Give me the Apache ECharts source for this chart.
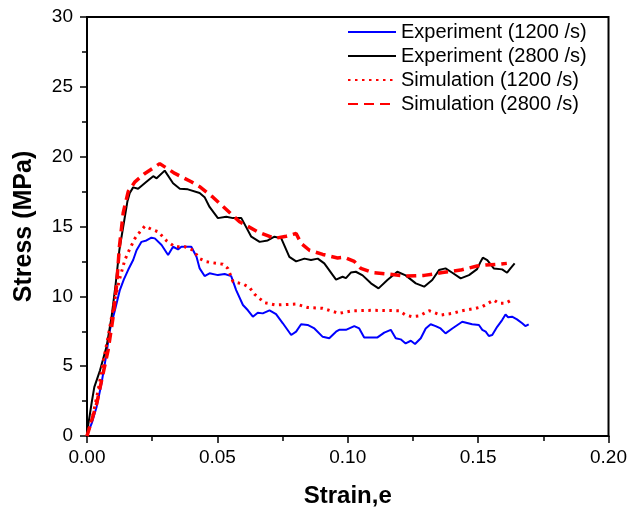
<!DOCTYPE html>
<html>
<head>
<meta charset="utf-8">
<script src="https://cdn.jsdelivr.net/npm/echarts@6/dist/echarts.min.js"></script>
<style>
  html, body { margin: 0; padding: 0; background: #fff; }
  #chart { width: 630px; height: 513px; }
</style>
</head>
<body>
<div id="chart"></div>
<script>
// Series names (legend order)
const seriesNames = ['Experiment (1200 /s)', 'Experiment (2800 /s)', 'Simulation (1200 /s)', 'Simulation (2800 /s)'];

// Experiment, strain rate 1200 /s
const exp1200Strain = [0, 0.0018, 0.0037, 0.0056, 0.0073, 0.0088, 0.0107, 0.0126, 0.0141, 0.0158, 0.0177, 0.019, 0.0209, 0.0228, 0.0247, 0.026, 0.0266, 0.0286, 0.0311, 0.033, 0.0349, 0.0362, 0.04, 0.042, 0.0432, 0.0451, 0.047, 0.0502, 0.0528, 0.0553, 0.0572, 0.0598, 0.0617, 0.0636, 0.0655, 0.0674, 0.07, 0.0725, 0.0751, 0.0783, 0.0802, 0.0821, 0.0846, 0.0872, 0.0904, 0.0929, 0.0955, 0.0967, 0.0993, 0.1025, 0.1044, 0.1063, 0.1114, 0.114, 0.1165, 0.1184, 0.1203, 0.1222, 0.1242, 0.1258, 0.128, 0.1299, 0.1318, 0.1337, 0.1356, 0.1375, 0.1401, 0.1439, 0.1477, 0.1503, 0.1516, 0.1529, 0.1541, 0.1554, 0.1573, 0.1592, 0.1605, 0.1615, 0.163, 0.1649, 0.1669, 0.1681, 0.1694];
const exp1200Stress = [0.1, 0.9, 2.1, 3.8, 5.7, 7.6, 9.0, 10.45, 11.2, 11.9, 12.6, 13.3, 13.9, 14.0, 14.2, 14.15, 14.27, 13.67, 12.96, 13.55, 13.36, 13.55, 13.55, 12.83, 12.0, 11.45, 11.65, 11.52, 11.6, 11.45, 10.45, 9.38, 9.0, 8.54, 8.83, 8.78, 9.0, 8.73, 8.07, 7.23, 7.47, 8.0, 7.95, 7.7, 7.1, 7.0, 7.47, 7.6, 7.6, 7.87, 7.7, 7.06, 7.06, 7.4, 7.6, 7.0, 6.92, 6.63, 6.82, 6.59, 7.0, 7.7, 8.0, 7.87, 7.7, 7.35, 7.7, 8.18, 8.0, 7.95, 7.6, 7.47, 7.16, 7.23, 7.82, 8.3, 8.7, 8.5, 8.54, 8.35, 8.07, 7.87, 8.0];

// Experiment, strain rate 2800 /s
const exp2800Strain = [0, 0.0018, 0.0028, 0.005, 0.0075, 0.0094, 0.011, 0.0124, 0.0139, 0.0155, 0.0164, 0.0177, 0.0196, 0.0228, 0.0254, 0.0267, 0.0298, 0.033, 0.0356, 0.0387, 0.0432, 0.0451, 0.047, 0.0502, 0.0534, 0.056, 0.0592, 0.063, 0.0662, 0.0693, 0.0719, 0.0745, 0.0776, 0.0802, 0.0834, 0.0859, 0.0885, 0.091, 0.0955, 0.098, 0.0993, 0.1012, 0.1031, 0.1057, 0.1089, 0.1118, 0.1152, 0.119, 0.1222, 0.1261, 0.1293, 0.1324, 0.135, 0.1375, 0.1401, 0.1433, 0.1465, 0.1496, 0.151, 0.1518, 0.1535, 0.156, 0.1592, 0.1611, 0.1624, 0.164];
const exp2800Stress = [0.2, 2.4, 3.5, 4.7, 6.4, 8.5, 10.9, 13.3, 15.0, 16.8, 17.4, 17.8, 17.7, 18.2, 18.6, 18.45, 19.0, 18.1, 17.7, 17.66, 17.4, 17.1, 16.4, 15.6, 15.7, 15.6, 15.6, 14.27, 13.9, 14.0, 14.27, 14.15, 12.83, 12.5, 12.7, 12.6, 12.7, 12.36, 11.2, 11.4, 11.3, 11.7, 11.76, 11.5, 10.93, 10.57, 11.17, 11.76, 11.5, 10.93, 10.69, 11.17, 11.88, 12.0, 11.69, 11.29, 11.52, 11.95, 12.5, 12.77, 12.6, 12.0, 11.93, 11.69, 12.0, 12.36];

// Simulation, strain rate 1200 /s
const sim1200Strain = [0, 0.0024, 0.0043, 0.0062, 0.0081, 0.0094, 0.0107, 0.0126, 0.0145, 0.0164, 0.0184, 0.0203, 0.0222, 0.0247, 0.0273, 0.0305, 0.0337, 0.0375, 0.0407, 0.0432, 0.0458, 0.0483, 0.0521, 0.054, 0.056, 0.0598, 0.0623, 0.0642, 0.0681, 0.0725, 0.0802, 0.0846, 0.0904, 0.0955, 0.0967, 0.1018, 0.1095, 0.1197, 0.1222, 0.1248, 0.1273, 0.1312, 0.1356, 0.1401, 0.1439, 0.149, 0.1516, 0.156, 0.1579, 0.1605, 0.1628];
const sim1200Stress = [0, 1.6, 3.3, 5.3, 7.1, 8.5, 9.8, 11.3, 12.6, 13.4, 14.15, 14.62, 15.03, 14.8, 14.62, 13.98, 13.55, 13.55, 13.3, 12.7, 12.48, 12.4, 12.3, 12.0, 11.05, 10.88, 10.64, 10.16, 9.54, 9.38, 9.45, 9.2, 9.14, 8.85, 8.78, 8.97, 9.0, 8.97, 8.66, 8.54, 8.59, 8.97, 8.66, 8.78, 8.97, 9.14, 9.26, 9.74, 9.5, 9.5, 9.74];

// Simulation, strain rate 2800 /s
const sim2800Strain = [0, 0.0037, 0.0062, 0.0081, 0.01, 0.0114, 0.0124, 0.0139, 0.0158, 0.0184, 0.0222, 0.0279, 0.0337, 0.04, 0.0432, 0.0483, 0.0509, 0.0585, 0.0655, 0.0719, 0.0764, 0.0802, 0.0821, 0.0853, 0.0904, 0.0961, 0.0987, 0.1025, 0.105, 0.1095, 0.1152, 0.1222, 0.1293, 0.1363, 0.1433, 0.1496, 0.1529, 0.1579, 0.161];
const sim2800Stress = [0, 2.3, 4.5, 6.15, 8.5, 10.9, 13.5, 16.0, 17.5, 18.2, 18.8, 19.5, 18.8, 18.2, 17.85, 17.1, 16.65, 15.34, 14.62, 14.15, 14.3, 14.5, 13.8, 13.3, 13.0, 12.75, 12.8, 12.5, 12.0, 11.7, 11.6, 11.45, 11.5, 11.7, 11.88, 12.17, 12.24, 12.3, 12.36];

// Axis ticks
const strainTicks = [0, 0.05, 0.10, 0.15, 0.20];
const stressTicks = [0, 5, 10, 15, 20, 25, 30];

const zip = (xs, ys) => xs.map((x, i) => [x, ys[i]]);
const FONT = '"Liberation Sans", Arial, sans-serif';

const chart = echarts.init(document.getElementById('chart'), null, { renderer: 'canvas' });

const axisCommon = {
  axisLine: { show: true, onZero: false, lineStyle: { color: '#000', width: 2 } },
  axisTick: { show: true, inside: false, length: 7, lineStyle: { color: '#000', width: 1.5 } },
  minorTick: { show: true, splitNumber: 2, length: 5, lineStyle: { color: '#000', width: 1.5 } },
  splitLine: { show: false }
};

chart.setOption({
  animation: false,
  backgroundColor: '#fff',
  grid: {
    left: 87, right: 20, top: 17, bottom: 77,
    show: true, borderColor: '#000', borderWidth: 2, backgroundColor: 'transparent'
  },
  legend: {
    orient: 'vertical',
    left: 347, top: 22,
    padding: 0,
    itemWidth: 48, itemHeight: 14, itemGap: 4,
    align: 'left',
    data: seriesNames,
    // line samples only, no marker on them
    itemStyle: { opacity: 0 },
    textStyle: { color: '#000', fontFamily: FONT, fontSize: 20, lineHeight: 20 }
  },
  xAxis: Object.assign({}, axisCommon, {
    type: 'value',
    min: strainTicks[0], max: strainTicks[strainTicks.length - 1], interval: 0.05,
    name: 'Strain,e', nameLocation: 'middle', nameGap: 48,
    nameTextStyle: { color: '#000', fontFamily: FONT, fontWeight: 'bold', fontSize: 24 },
    axisLabel: { color: '#000', fontFamily: FONT, fontSize: 19, margin: 12, formatter: v => v.toFixed(2) }
  }),
  yAxis: Object.assign({}, axisCommon, {
    type: 'value',
    min: stressTicks[0], max: stressTicks[stressTicks.length - 1], interval: 5,
    name: 'Stress (MPa)', nameLocation: 'middle', nameGap: 50,
    nameTextStyle: { color: '#000', fontFamily: FONT, fontWeight: 'bold', fontSize: 25 },
    axisLabel: { color: '#000', fontFamily: FONT, fontSize: 19, margin: 14 }
  }),
  series: [
    {
      name: seriesNames[0], type: 'line', symbol: 'none', smooth: false,
      data: zip(exp1200Strain, exp1200Stress),
      lineStyle: { color: '#0000ff', width: 2 }, itemStyle: { color: '#0000ff' }
    },
    {
      name: seriesNames[1], type: 'line', symbol: 'none', smooth: false,
      data: zip(exp2800Strain, exp2800Stress),
      lineStyle: { color: '#000000', width: 2 }, itemStyle: { color: '#000000' }
    },
    {
      name: seriesNames[2], type: 'line', symbol: 'none', smooth: false,
      data: zip(sim1200Strain, sim1200Stress),
      lineStyle: { color: '#ff0000', width: 3, type: [2.5, 4.5], cap: 'butt' }, itemStyle: { color: '#ff0000' }
    },
    {
      name: seriesNames[3], type: 'line', symbol: 'none', smooth: false,
      data: zip(sim2800Strain, sim2800Stress),
      lineStyle: { color: '#ff0000', width: 3.5, type: [10, 6], cap: 'butt' }, itemStyle: { color: '#ff0000' }
    }
  ]
});
</script>
</body>
</html>
